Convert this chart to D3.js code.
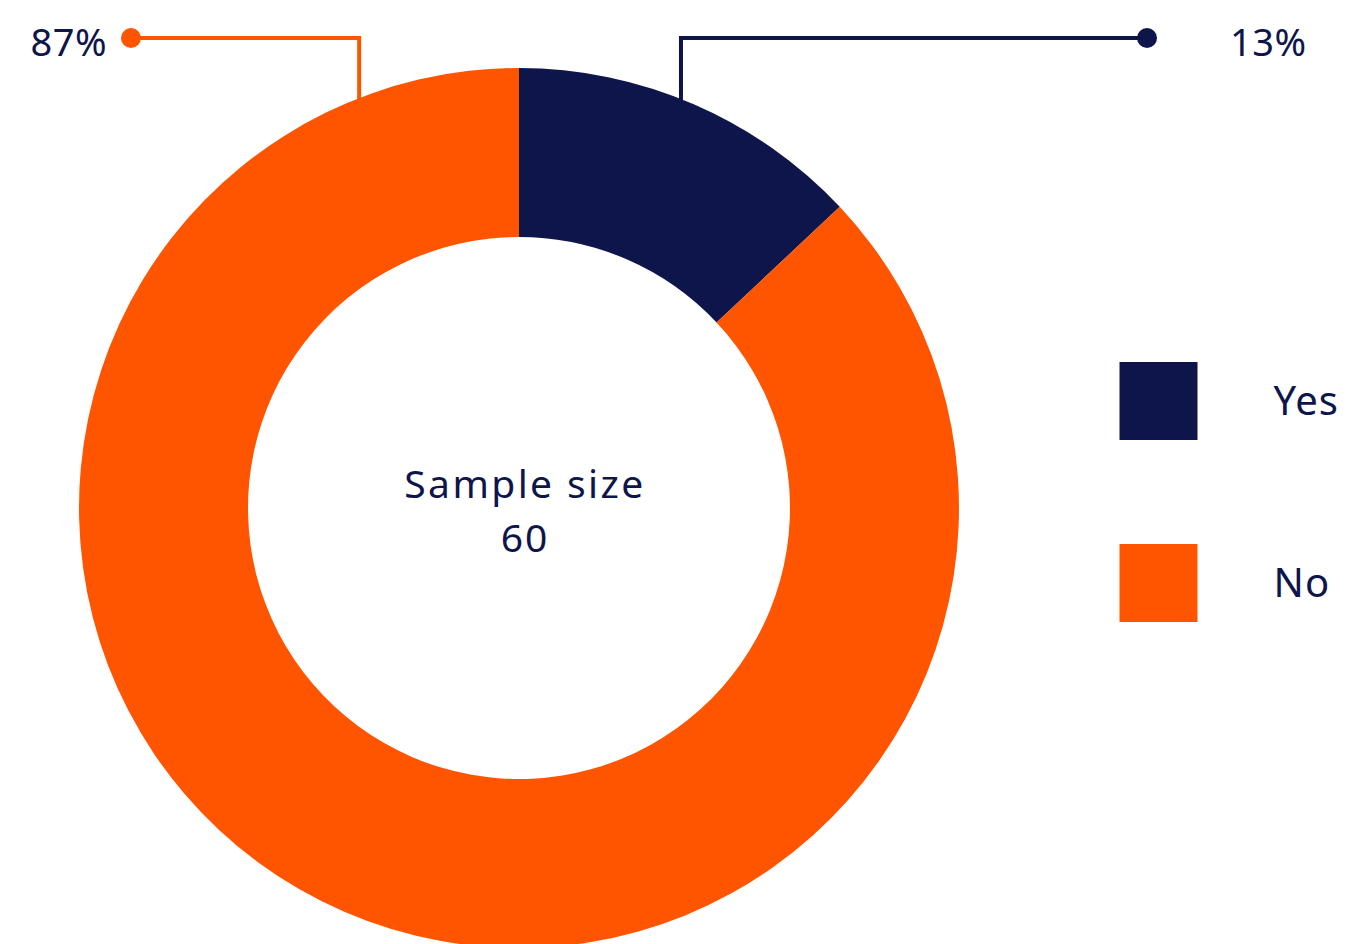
<!DOCTYPE html>
<html>
<head>
<meta charset="utf-8">
<script src="https://cdn.jsdelivr.net/npm/d3@7"></script>
<style>
  body { margin: 0; background: #fff; }
  text { font-family: "Noto Sans", Lato, sans-serif; fill: #0e154a; }
</style>
</head>
<body>
<svg id="chart" width="1347" height="944"></svg>
<script>
const categories = ["Yes", "No"];
const values = [13, 87];
const sampleSize = 60;
const colors = ["#0e154a", "#ff5500"];

const svg = d3.select("#chart");
const cx = 519, cy = 508;
const outer = 440, inner = 271;

const color = d3.scaleOrdinal().domain(categories).range(colors);

const pie = d3.pie().sort(null).value(d => d.value);
const arcs = pie(categories.map((c, i) => ({ key: c, value: values[i] })));
const arc = d3.arc().innerRadius(inner).outerRadius(outer);

const g = svg.append("g").attr("transform", `translate(${cx},${cy})`);

g.selectAll("path")
  .data(arcs)
  .join("path")
    .attr("fill", d => color(d.data.key))
    .attr("d", arc);

// centre text
g.append("text")
  .attr("x", 6).attr("y", -10)
  .attr("text-anchor", "middle")
  .attr("font-size", 39)
  .attr("letter-spacing", 2.4)
  .text("Sample size");
g.append("text")
  .attr("x", 6).attr("y", 44)
  .attr("text-anchor", "middle")
  .attr("font-size", 39)
  .attr("letter-spacing", 2)
  .text(sampleSize);

// leader lines: anchor on the outer edge, elbow up to y=38, then out to a dot
const leaders = {
  Yes: { angle: 21.6, dotX: 1147, labelX: 1230, anchor: "start" },
  No:  { angle: -21.3, dotX: 131, labelX: 107, anchor: "end" }
};
const lineY = 38;

arcs.forEach(d => {
  const l = leaders[d.data.key];
  const a = l.angle * Math.PI / 180;
  const x0 = cx + outer * Math.sin(a);
  const y0 = cy - outer * Math.cos(a) + 2;
  const c = color(d.data.key);
  svg.append("path")
    .attr("d", d3.line()([[x0, y0], [x0, lineY], [l.dotX, lineY]]))
    .attr("fill", "none")
    .attr("stroke", c)
    .attr("stroke-width", 4);
  svg.append("circle")
    .attr("cx", l.dotX).attr("cy", lineY).attr("r", 10)
    .attr("fill", c);
  const pct = Math.round(d.value / d3.sum(values) * 100);
  svg.append("text")
    .attr("x", l.labelX).attr("y", lineY + 4)
    .attr("dy", "0.36em")
    .attr("text-anchor", l.anchor)
    .attr("font-size", 38)
    .attr("letter-spacing", 0.5)
    .text(pct + "%");
});

// legend
const legendY = d3.scalePoint().domain(categories).range([401, 583]);
const legend = svg.selectAll(".legend")
  .data(categories)
  .join("g")
    .attr("class", "legend")
    .attr("transform", d => `translate(1119.5,${legendY(d)})`);

legend.append("rect")
  .attr("x", 0).attr("y", -39)
  .attr("width", 78).attr("height", 78)
  .attr("fill", d => color(d));

legend.append("text")
  .attr("x", 154).attr("y", 0)
  .attr("dy", "0.36em")
  .attr("font-size", 40)
  .attr("letter-spacing", 1)
  .text(d => d);
</script>
</body>
</html>
